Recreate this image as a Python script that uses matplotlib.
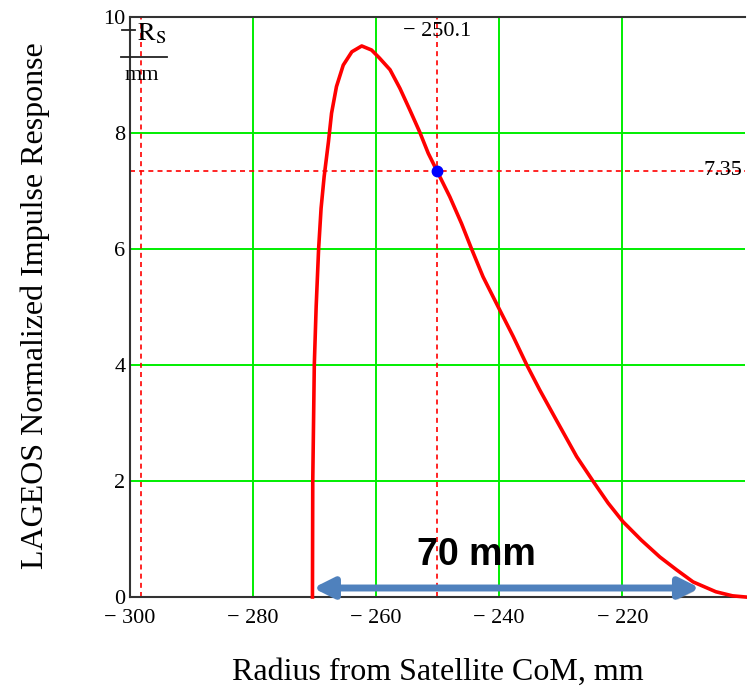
import numpy as np
import matplotlib
matplotlib.use('Agg')
import matplotlib.pyplot as plt
import matplotlib.patheffects as pe
from matplotlib.lines import Line2D

# impulse response curve (radius mm, normalized response)
radius = [-270.3, -270.25, -270.0, -269.7, -269.3, -268.9, -268.4, -267.7,
          -267.2, -266.4, -265.3, -263.9, -262.3, -260.7, -259.4, -257.7,
          -256.1, -254.5, -252.9, -251.5, -250.1, -248.0, -246.1, -244.5,
          -242.6, -239.9, -237.7, -235.5, -233.4, -230.7, -227.4, -224.7,
          -222.3, -219.9, -216.9, -213.9, -211.2, -208.5, -204.8, -202.1,
          -200.0]
response = [0.0, 2.0, 4.0, 5.0, 6.0, 6.7, 7.25, 7.85,
            8.34, 8.80, 9.17, 9.40, 9.50, 9.43, 9.29, 9.09,
            8.77, 8.40, 8.02, 7.65, 7.35, 6.90, 6.44, 6.01,
            5.52, 4.95, 4.49, 4.0, 3.57, 3.05, 2.42, 1.99,
            1.62, 1.30, 0.98, 0.69, 0.47, 0.26, 0.09, 0.02,
            0.0]

marker_x = -250.1
marker_y = 7.35
marker_x2 = -298.1
span_start = -270.2
span_end = -207.4
span_label = '70 mm'
span_label_x = -243.7

xticks = [-300, -280, -260, -240, -220]
yticks = [0, 2, 4, 6, 8, 10]

serif = 'Liberation Serif'
plt.rcParams['mathtext.fontset'] = 'stix'

fig = plt.figure(figsize=(7.47, 6.9), dpi=100)
ax = fig.add_axes([0.1734, 0.1348, 0.8245, 0.8406])
ax.set_xlim(-300, -200)
ax.set_ylim(0, 10)

# green grid
for v in xticks[1:]:
    ax.axvline(v, color='#00ee00', lw=1.4, zorder=1)
for v in yticks[1:-1]:
    ax.axhline(v, color='#00ee00', lw=1.4, zorder=1)

# markers
dash = (0, (3, 2.5))
ax.axvline(marker_x, color='red', lw=1.2, ls=dash, zorder=2)
ax.axvline(marker_x2, color='red', lw=1.2, ls=dash, zorder=2)
ax.axhline(marker_y, color='red', lw=1.2, ls=dash, zorder=2)

ax.plot(radius, response, color='#ff0000', lw=2.6, zorder=3, clip_on=False)
ax.plot([marker_x], [marker_y], 'o', color='#0000ff', ms=7.5, zorder=4)

ax.text(marker_x, 9.75, '\u2212 %.1f' % abs(marker_x), ha='center', va='center',
        fontsize=16, family=serif, zorder=5)
ax.text(0.995, marker_y, '%.2f' % marker_y, transform=ax.get_yaxis_transform(),
        ha='right', va='center', fontsize=16, family=serif, zorder=5)

# double arrow with shadow
ax.annotate('', xy=(span_start, 0.155), xytext=(span_end, 0.155),
            arrowprops=dict(arrowstyle='<|-|>,head_length=1.2,head_width=0.6',
                            color='#4f81bd', lw=5, shrinkA=0, shrinkB=0,
                            path_effects=[pe.withSimplePatchShadow(offset=(1.5, -2.5), shadow_rgbFace='gray', alpha=0.5)]),
            zorder=5)
ax.text(span_label_x, 0.72, span_label, ha='center', va='center',
        fontsize=27, fontweight='bold', family='Liberation Sans', zorder=6)

# axes style
for s in ['left', 'bottom', 'top']:
    ax.spines[s].set_color('#333333')
    ax.spines[s].set_linewidth(1.5)
ax.spines['right'].set_visible(False)
ax.set_xticks(xticks)
ax.set_xticklabels(['\u2212 %d' % abs(v) for v in xticks])
ax.set_yticks(yticks)
ax.set_yticklabels([str(v) for v in yticks])
ax.tick_params(axis='x', length=0, labelsize=16, pad=9)
ax.tick_params(axis='y', length=0, labelsize=16, pad=3)
for lab in ax.get_xticklabels() + ax.get_yticklabels():
    lab.set_family(serif)

fig.text(0.5 * (129.5 + 745.4) / 747 - 0.0, 1 - 672 / 690, 'Radius from Satellite CoM, mm',
         ha='center', va='center', fontsize=23, family=serif)
fig.text(35 / 747, 1 - 306 / 690, 'LAGEOS Normalized Impulse Response',
         ha='center', va='center', rotation=90, fontsize=23, family=serif)

# unit label R_S / mm
fig.text(152 / 747, 1 - 33 / 690, r'$\mathrm{R_S}$', ha='center', va='center', fontsize=19)
fig.text(142 / 747, 1 - 76 / 690, 'mm', ha='center', va='center', fontsize=16, family=serif)
fig.add_artist(Line2D([121 / 747, 167 / 747], [1 - 57 / 690, 1 - 57 / 690], color='#222222', lw=1.3))
fig.add_artist(Line2D([122 / 747, 135 / 747], [1 - 30 / 690, 1 - 30 / 690], color='#222222', lw=1.3))

fig.savefig('out.png', dpi=100)
